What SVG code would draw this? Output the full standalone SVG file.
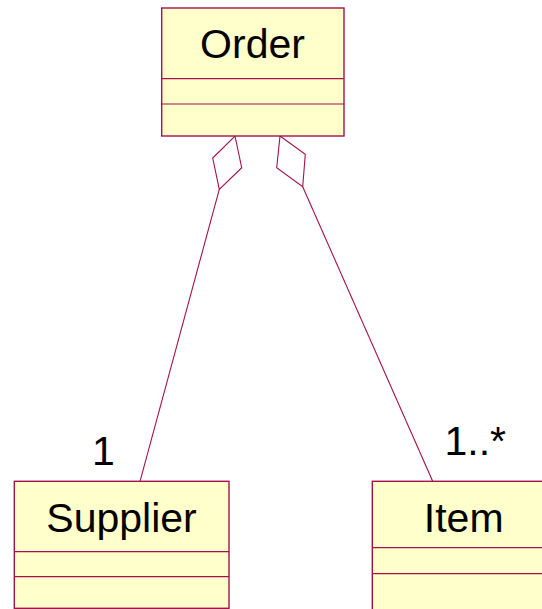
<svg xmlns="http://www.w3.org/2000/svg" width="542" height="609" viewBox="0 0 542 609">
<style>
.box{fill:#FFFFCC;stroke:#A3124A;stroke-width:1.4}
.div{stroke:#A3124A;stroke-width:1.2}
.name{font-family:"Liberation Sans",Arial,sans-serif;font-size:41px;fill:#000;text-anchor:middle}
.mult{font-family:"Liberation Sans",Arial,sans-serif;font-size:41px;fill:#000}
.conn{fill:none;stroke:#A3124A;stroke-width:1.1}
</style>
<rect width="542" height="609" fill="#fff"/>
<g id="connectors">
<polygon class="conn" points="235,136 241.7,167.7 219.3,189.3 212.7,158"/>
<line class="conn" x1="219.3" y1="189.3" x2="140" y2="481.3"/>
<polygon class="conn" points="280,136 305.3,154.3 302.7,186.7 276.7,167.7"/>
<line class="conn" x1="302.7" y1="186.7" x2="432.7" y2="481.3"/>
<text class="mult" x="92" y="465">1</text>
<text class="mult" x="444.5" y="455">1..*</text>
</g>
<g id="order">
<rect class="box" x="161.7" y="8" width="182.3" height="128"/>
<line class="div" x1="161.7" y1="78.7" x2="344" y2="78.7"/>
<line class="div" x1="161.7" y1="104" x2="344" y2="104"/>
<text class="name" x="252.5" y="58">Order</text>
</g>
<g id="supplier">
<rect class="box" x="14.3" y="481.3" width="214.7" height="127"/>
<line class="div" x1="14.3" y1="551.7" x2="229" y2="551.7"/>
<line class="div" x1="14.3" y1="576.7" x2="229" y2="576.7"/>
<text class="name" x="121.5" y="531.7">Supplier</text>
</g>
<g id="item">
<rect class="box" x="372.3" y="481.3" width="183" height="140"/>
<line class="div" x1="372.3" y1="547.7" x2="555.3" y2="547.7"/>
<line class="div" x1="372.3" y1="573.7" x2="555.3" y2="573.7"/>
<text class="name" x="463.7" y="531.7">Item</text>
</g>
</svg>
